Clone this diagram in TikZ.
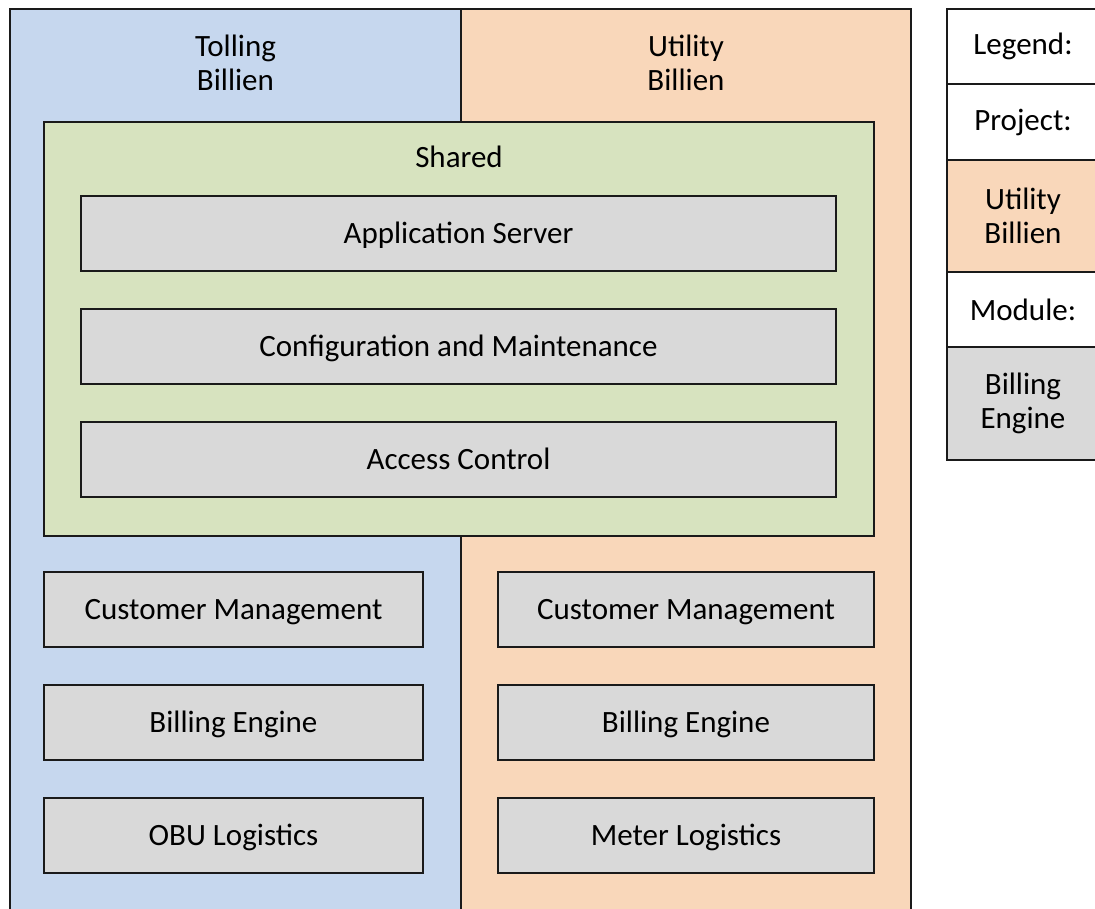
\documentclass[tikz,border=0pt]{standalone}
\usepackage{fontspec}
\setmainfont{Carlito}
\definecolor{tollblue}{HTML}{C6D7EE}
\definecolor{utilorange}{HTML}{F9D7BA}
\definecolor{sharedgreen}{HTML}{D7E3BF}
\definecolor{modgray}{HTML}{D9D9D9}
\definecolor{edge}{HTML}{1A1A1A}
\tikzset{
  panel/.style={draw=edge, line width=1.6pt, rectangle, inner sep=0pt, outer sep=0pt},
  modbox/.style={panel, fill=modgray, minimum height=75pt, text height=19pt, text depth=0pt},
  lbl/.style={align=center, inner sep=0pt},
  legendcell/.style={panel, minimum width=152pt, align=center},
}
\begin{document}
\begin{tikzpicture}[x=1pt, y=-1pt, font=\fontsize{31}{34}\selectfont]
\useasboundingbox (0,0) rectangle (1095,908);
\begin{scope}
\clip (0,0) rectangle (1095,908);

% project areas
\node[panel, fill=tollblue, minimum width=451pt, minimum height=921pt, anchor=north west] (toll) at (10,9) {};
\node[panel, fill=utilorange, minimum width=450pt, minimum height=921pt, anchor=north west] (util) at (461,9) {};
\node[lbl] (tolltitle) at (235.5,63) {Tolling\\Billien};
\node[lbl] (utiltitle) at (686,63) {Utility\\Billien};

% shared area
\node[panel, fill=sharedgreen, minimum width=830pt, minimum height=414pt, anchor=north west] (shared) at (44,122) {};
\node[lbl] (sharedtitle) at (459,157) {Shared};

% shared modules
\node[modbox, minimum width=755pt] (appsrv) at (458.5,233.5) {Application Server};
\node[modbox, minimum width=755pt] (config) at (458.5,346.5) {Configuration and Maintenance};
\node[modbox, minimum width=755pt] (access) at (458.5,459.5) {Access Control};

% tolling modules
\node[modbox, minimum width=379pt] (tcust) at (233.5,609.5) {Customer Management};
\node[modbox, minimum width=379pt] (tbill) at (233.5,722.5) {Billing Engine};
\node[modbox, minimum width=379pt] (tobu) at (233.5,835.5) {OBU Logistics};

% utility modules
\node[modbox, minimum width=376pt] (ucust) at (686,609.5) {Customer Management};
\node[modbox, minimum width=376pt] (ubill) at (686,722.5) {Billing Engine};
\node[modbox, minimum width=376pt] (umeter) at (686,835.5) {Meter Logistics};

% legend
\node[legendcell, fill=white, minimum height=75pt, anchor=north west] (lgd) at (947,9) {Legend:};
\node[legendcell, fill=white, minimum height=76pt, anchor=north west] (lproj) at (947,84) {Project:};
\node[legendcell, fill=utilorange, minimum height=112pt, anchor=north west] (lprojex) at (947,160) {Utility\\Billien};
\node[legendcell, fill=white, minimum height=75pt, anchor=north west] (lmod) at (947,272) {Module:};
\node[legendcell, fill=modgray, minimum height=113pt, anchor=north west] (lmodex) at (947,347) {Billing\\Engine};
\end{scope}
\end{tikzpicture}
\end{document}
